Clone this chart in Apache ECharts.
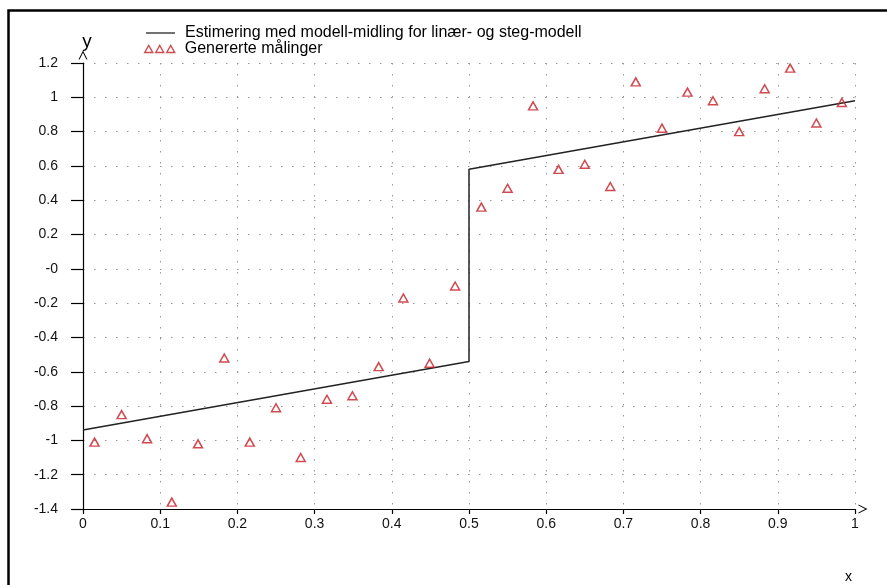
<!DOCTYPE html>
<html>
<head>
<meta charset="utf-8">
<script src="https://cdn.jsdelivr.net/npm/echarts@6/dist/echarts.min.js"></script>
<style>
html,body{margin:0;padding:0;background:#fff;}
#chart{width:887px;height:585px;}
</style>
</head>
<body>
<div id="chart"></div>
<script>
// Measured points
var pointX = [0.015, 0.050, 0.083, 0.115, 0.149, 0.183, 0.216, 0.250, 0.282, 0.316,
              0.349, 0.383, 0.415, 0.449, 0.482, 0.516, 0.550, 0.583, 0.616, 0.650,
              0.683, 0.716, 0.750, 0.783, 0.816, 0.850, 0.883, 0.916, 0.950, 0.983];
var pointY = [-1.01, -0.85, -0.99, -1.36, -1.02, -0.52, -1.01, -0.81, -1.10, -0.76,
              -0.74, -0.57, -0.17, -0.55, -0.10, 0.36, 0.47, 0.95, 0.58, 0.61,
              0.48, 1.09, 0.82, 1.03, 0.98, 0.80, 1.05, 1.17, 0.85, 0.97];
// Estimated model (linear + step)
var lineX = [0, 0.5, 0.5, 1];
var lineY = [-0.94, -0.54, 0.58, 0.98];

var lineName = 'Estimering med modell-midling for linær- og steg-modell';
var pointName = 'Genererte målinger';
var xName = 'x';
var yName = 'y';

var font = "'Liberation Sans', Arial, sans-serif";

var chart = echarts.init(document.getElementById('chart'), null, {renderer: 'canvas'});

function pairs(xs, ys) { return xs.map(function (x, i) { return [x, ys[i]]; }); }

var chevron = 'path://M0,10 L5,0 L10,10 L8.8,10 L5,2.4 L1.2,10 Z';

chart.setOption({
  animation: false,
  backgroundColor: '#fff',
  graphic: [{
    type: 'rect', left: 6, top: 8, z: 100, silent: true,
    shape: {width: 900, height: 600},
    style: {fill: 'none', stroke: '#000', lineWidth: 2.5}
  }, {
    type: 'text', left: 845, top: 570, silent: true,
    style: {text: xName, fontSize: 14, fill: '#000', fontFamily: font}
  }],
  grid: {left: 83, right: 32, top: 63, bottom: 76, containLabel: false},
  legend: [{
    data: [lineName], left: 141, top: 20, itemWidth: 29, itemHeight: 1.5, icon: 'rect',
    itemGap: 0, textStyle: {fontSize: 16, color: '#000', fontFamily: font, padding: [0, 0, 0, 5]},
    itemStyle: {color: '#444', borderWidth: 0}
  }, {
    data: [pointName], left: 139, top: 36, itemWidth: 30, itemHeight: 7,
    icon: 'path://M0,7 L4,0 L8,7 Z M11,7 L15,0 L19,7 Z M22,7 L26,0 L30,7 Z',
    textStyle: {fontSize: 16, color: '#000', fontFamily: font, padding: [0, 0, 0, 5]},
    itemStyle: {color: 'rgba(0,0,0,0)', borderColor: '#c41e26', borderWidth: 1.4}
  }],
  xAxis: {
    type: 'value', min: 0, max: 1, interval: 0.1,
    axisLine: {onZero: false, lineStyle: {color: '#000', width: 1.2}, symbol: ['none', chevron], symbolSize: [11, 9], symbolOffset: [0, 8]},
    axisTick: {show: true, length: 5, lineStyle: {color: '#000', width: 1.2}},
    axisLabel: {fontSize: 14, color: '#111', fontFamily: font, margin: 8,
      formatter: function (v) { return String(+v.toFixed(1)); }},
    splitLine: {show: true, lineStyle: {color: '#999', type: [1.5, 9.5], width: 1}}
  },
  yAxis: {
    type: 'value', min: -1.4, max: 1.2, interval: 0.2,
    name: yName, nameLocation: 'end', nameGap: 12,
    nameTextStyle: {fontSize: 19, color: '#000', fontFamily: font, padding: [0, 0, 0, 8]},
    axisLine: {onZero: false, lineStyle: {color: '#000', width: 1.2}, symbol: ['none', chevron], symbolSize: [11, 9], symbolOffset: [0, 8]},
    axisTick: {show: true, length: 12, lineStyle: {color: '#000', width: 1.2}},
    axisLabel: {fontSize: 14, color: '#111', fontFamily: font, margin: 25,
      formatter: function (v) { var r = +v.toFixed(1); return r === 0 ? '-0' : String(r); }},
    splitLine: {show: true, lineStyle: {color: '#999', type: [1.5, 9.5], width: 1}}
  },
  series: [{
    name: lineName, type: 'line', data: pairs(lineX, lineY),
    showSymbol: false, symbol: 'none',
    lineStyle: {color: '#222', width: 1.5}, itemStyle: {color: '#444'}, z: 3
  }, {
    name: pointName, type: 'scatter', data: pairs(pointX, pointY),
    symbol: 'triangle', symbolSize: [9, 8],
    itemStyle: {color: 'rgba(0,0,0,0)', borderColor: '#c41e26', borderWidth: 1.5}, z: 4
  }]
});
</script>
</body>
</html>
